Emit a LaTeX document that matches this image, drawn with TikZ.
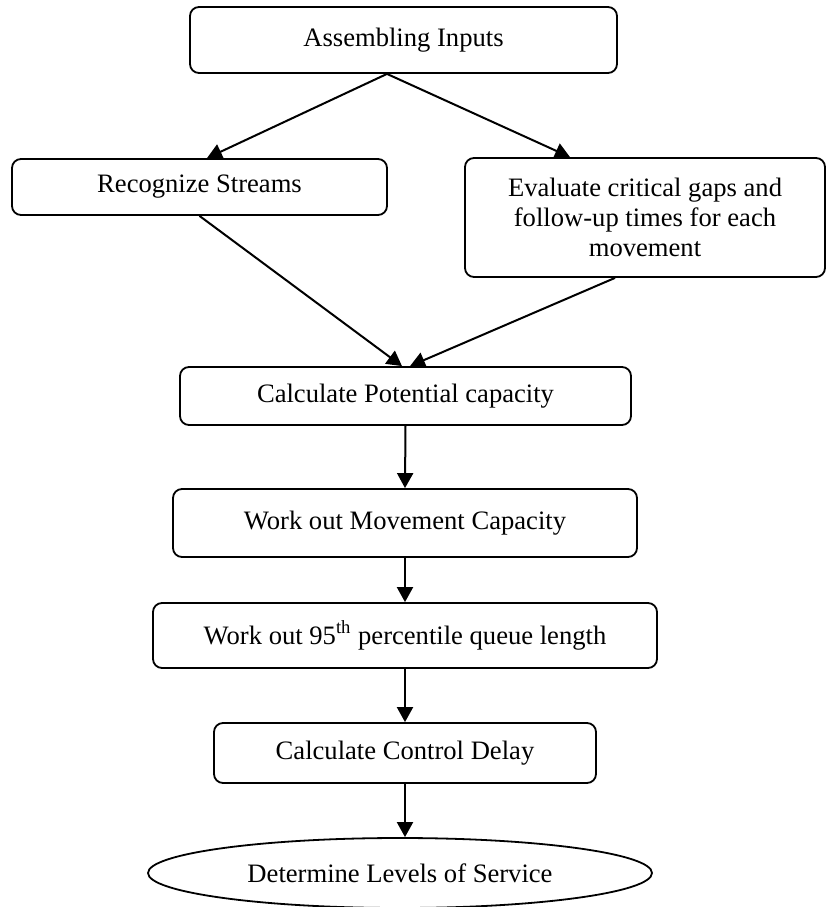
\documentclass[tikz,border=0pt]{standalone}
\usepackage{fontspec}
\setmainfont{Liberation Serif}
\usetikzlibrary{shapes.geometric,arrows.meta}
\begin{document}
\begin{tikzpicture}[x=0.5pt,y=-0.5pt,
        box/.style={draw,line width=0.9pt,rounded corners=4.5pt,align=center,inner sep=0pt,font=\fontsize{13.3}{15}\selectfont},
        oval/.style={draw,line width=0.9pt,ellipse,inner sep=0pt,font=\fontsize{13.3}{15}\selectfont},
        arr/.style={-{Triangle[length=7.5pt,width=8pt]},line width=1pt}]
        \useasboundingbox (0,0) rectangle (826,907);
        \node[box,minimum width=213.5pt,minimum height=33pt] (inputs) at (403.5,40) {Assembling Inputs};
        \node[box,minimum width=187.5pt,minimum height=28pt] (streams) at (199.5,187) {Recognize Streams};
        \node[box,minimum width=180pt,minimum height=59.5pt] (gaps) at (645,217.5) {Evaluate critical gaps and\\follow-up times for each\\movement};
        \node[box,minimum width=225.5pt,minimum height=29pt] (potcap) at (405.5,396) {Calculate Potential capacity};
        \node[box,minimum width=232pt,minimum height=34pt] (movcap) at (405,523) {Work out Movement Capacity};
        \node[box,minimum width=252pt,minimum height=32.5pt] (queue) at (405,635.5) {Work out 95\textsuperscript{th} percentile queue length};
        \node[box,minimum width=191pt,minimum height=30pt] (delay) at (405,753) {Calculate Control Delay};
        \node[oval,minimum width=252pt,minimum height=35pt] (los) at (400,873) {Determine Levels of Service};
        \draw[arr] ([xshift=-8.25pt]inputs.south) -- ([xshift=3.75pt]streams.north);
        \draw[arr] ([xshift=-8.25pt]inputs.south) -- ([xshift=-37.5pt]gaps.north);
        \draw[arr] (streams.south) -- ([xshift=-1.75pt]potcap.north);
        \draw[arr] ([xshift=-15pt]gaps.south) -- ([xshift=2.25pt]potcap.north);
        \draw[arr] (potcap.south) -- (movcap.north);
        \draw[arr] (movcap.south) -- (queue.north);
        \draw[arr] (queue.south) -- (delay.north);
        \draw[arr] (delay.south) -- (delay.south |- los.north);
\end{tikzpicture}
\end{document}
